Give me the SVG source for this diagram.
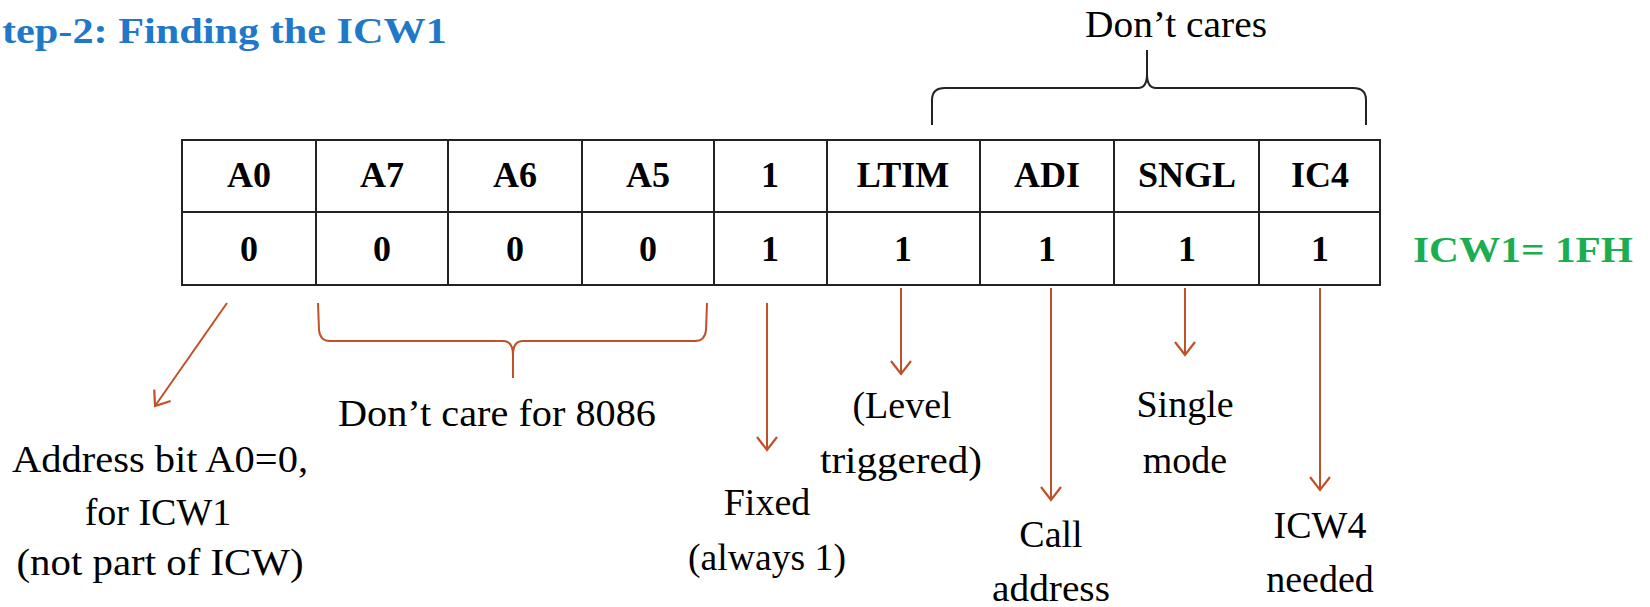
<svg xmlns="http://www.w3.org/2000/svg" width="1650" height="607" viewBox="0 0 1650 607">
<defs>
<style>
.hdr{font-family:"Liberation Serif",serif;font-weight:bold;font-size:36px;fill:#000;text-anchor:middle}
.lbl{font-family:"Liberation Serif",serif;font-size:38px;fill:#000;text-anchor:middle}
.grid{stroke:#222;stroke-width:2;fill:none}
.arr{stroke:#C0502A;stroke-width:2;fill:none;marker-end:url(#ah)}
.brace-r{stroke:#C0502A;stroke-width:2;fill:none}
.brace-k{stroke:#222;stroke-width:2;fill:none}
</style>
<marker id="ah" markerUnits="userSpaceOnUse" markerWidth="24" markerHeight="24" refX="16" refY="12" orient="auto" viewBox="0 0 24 24">
<path d="M3,2 L16,12 L3,22" stroke="#C0502A" stroke-width="2.2" fill="none"/>
</marker>
</defs>
<rect width="1650" height="607" fill="#fff"/>
<text id="title" x="2" y="43" font-family="Liberation Serif, serif" font-weight="bold" font-size="35" fill="#1F78C8" textLength="445" lengthAdjust="spacingAndGlyphs">tep-2: Finding the ICW1</text>

<g id="table">
<rect class="grid" x="182" y="140" width="1198" height="145"/>
<line class="grid" x1="182" y1="212" x2="1380" y2="212"/>
<line class="grid" x1="316" y1="140" x2="316" y2="285"/>
<line class="grid" x1="448" y1="140" x2="448" y2="285"/>
<line class="grid" x1="582" y1="140" x2="582" y2="285"/>
<line class="grid" x1="714" y1="140" x2="714" y2="285"/>
<line class="grid" x1="827" y1="140" x2="827" y2="285"/>
<line class="grid" x1="980" y1="140" x2="980" y2="285"/>
<line class="grid" x1="1114" y1="140" x2="1114" y2="285"/>
<line class="grid" x1="1259" y1="140" x2="1259" y2="285"/>
</g>
<g id="cell-A0"><text class="hdr" x="249" y="187">A0</text><text class="hdr" x="249" y="261">0</text></g>
<g id="cell-A7"><text class="hdr" x="382" y="187">A7</text><text class="hdr" x="382" y="261">0</text></g>
<g id="cell-A6"><text class="hdr" x="515" y="187">A6</text><text class="hdr" x="515" y="261">0</text></g>
<g id="cell-A5"><text class="hdr" x="648" y="187">A5</text><text class="hdr" x="648" y="261">0</text></g>
<g id="cell-1"><text class="hdr" x="770" y="187">1</text><text class="hdr" x="770" y="261">1</text></g>
<g id="cell-LTIM"><text class="hdr" x="903" y="187">LTIM</text><text class="hdr" x="903" y="261">1</text></g>
<g id="cell-ADI"><text class="hdr" x="1047" y="187">ADI</text><text class="hdr" x="1047" y="261">1</text></g>
<g id="cell-SNGL"><text class="hdr" x="1187" y="187">SNGL</text><text class="hdr" x="1187" y="261">1</text></g>
<g id="cell-IC4"><text class="hdr" x="1320" y="187">IC4</text><text class="hdr" x="1320" y="261">1</text></g>

<g id="result"><text x="1413" y="262" font-family="Liberation Serif, serif" font-weight="bold" font-size="36" fill="#1AAE50" textLength="220" lengthAdjust="spacingAndGlyphs">ICW1= 1FH</text></g>

<g id="dont-cares">
<path class="brace-k" d="M932,125 L932,100 Q932,88 945,88 L1138,88 Q1147,88 1147,74 L1147,50 M1366,125 L1366,100 Q1366,88 1353,88 L1156,88 Q1147,88 1147,74"/>
<text class="lbl" x="1176" y="37" textLength="182" lengthAdjust="spacingAndGlyphs">Don’t cares</text>
</g>

<g id="dont-care-8086">
<path class="brace-r" d="M318,303 L319,330 Q320,341 330,341 L503,341 Q513,341 513,355 L513,378 M707,303 L706,330 Q705,341 695,341 L523,341 Q513,341 513,355"/>
<text class="lbl" x="497" y="426" textLength="318" lengthAdjust="spacingAndGlyphs">Don’t care for 8086</text>
</g>

<g id="label-A0">
<text class="lbl" x="160" y="472" textLength="296" lengthAdjust="spacingAndGlyphs">Address bit A0=0,</text>
<text class="lbl" x="158" y="525">for ICW1</text>
<text class="lbl" x="160" y="575" textLength="287" lengthAdjust="spacingAndGlyphs">(not part of ICW)</text>
</g>
<g id="label-fixed">
<text class="lbl" x="767" y="515">Fixed</text>
<text class="lbl" x="767" y="570" textLength="158" lengthAdjust="spacingAndGlyphs">(always 1)</text>
</g>
<g id="label-ltim">
<text class="lbl" x="902" y="418">(Level</text>
<text class="lbl" x="901" y="473" textLength="162" lengthAdjust="spacingAndGlyphs">triggered)</text>
</g>
<g id="label-adi">
<text class="lbl" x="1051" y="547">Call</text>
<text class="lbl" x="1051" y="601" textLength="118" lengthAdjust="spacingAndGlyphs">address</text>
</g>
<g id="label-sngl">
<text class="lbl" x="1185" y="417">Single</text>
<text class="lbl" x="1185" y="473">mode</text>
</g>
<g id="label-ic4">
<text class="lbl" x="1320" y="538">ICW4</text>
<text class="lbl" x="1320" y="592">needed</text>
</g>

<g id="connectors">
<line class="arr" x1="227" y1="303" x2="155" y2="406"/>
<line class="arr" x1="767" y1="303" x2="767" y2="450"/>
<line class="arr" x1="901" y1="288" x2="901" y2="374"/>
<line class="arr" x1="1051" y1="288" x2="1051" y2="500"/>
<line class="arr" x1="1185" y1="288" x2="1185" y2="355"/>
<line class="arr" x1="1320" y1="288" x2="1320" y2="490"/>
</g>
</svg>
